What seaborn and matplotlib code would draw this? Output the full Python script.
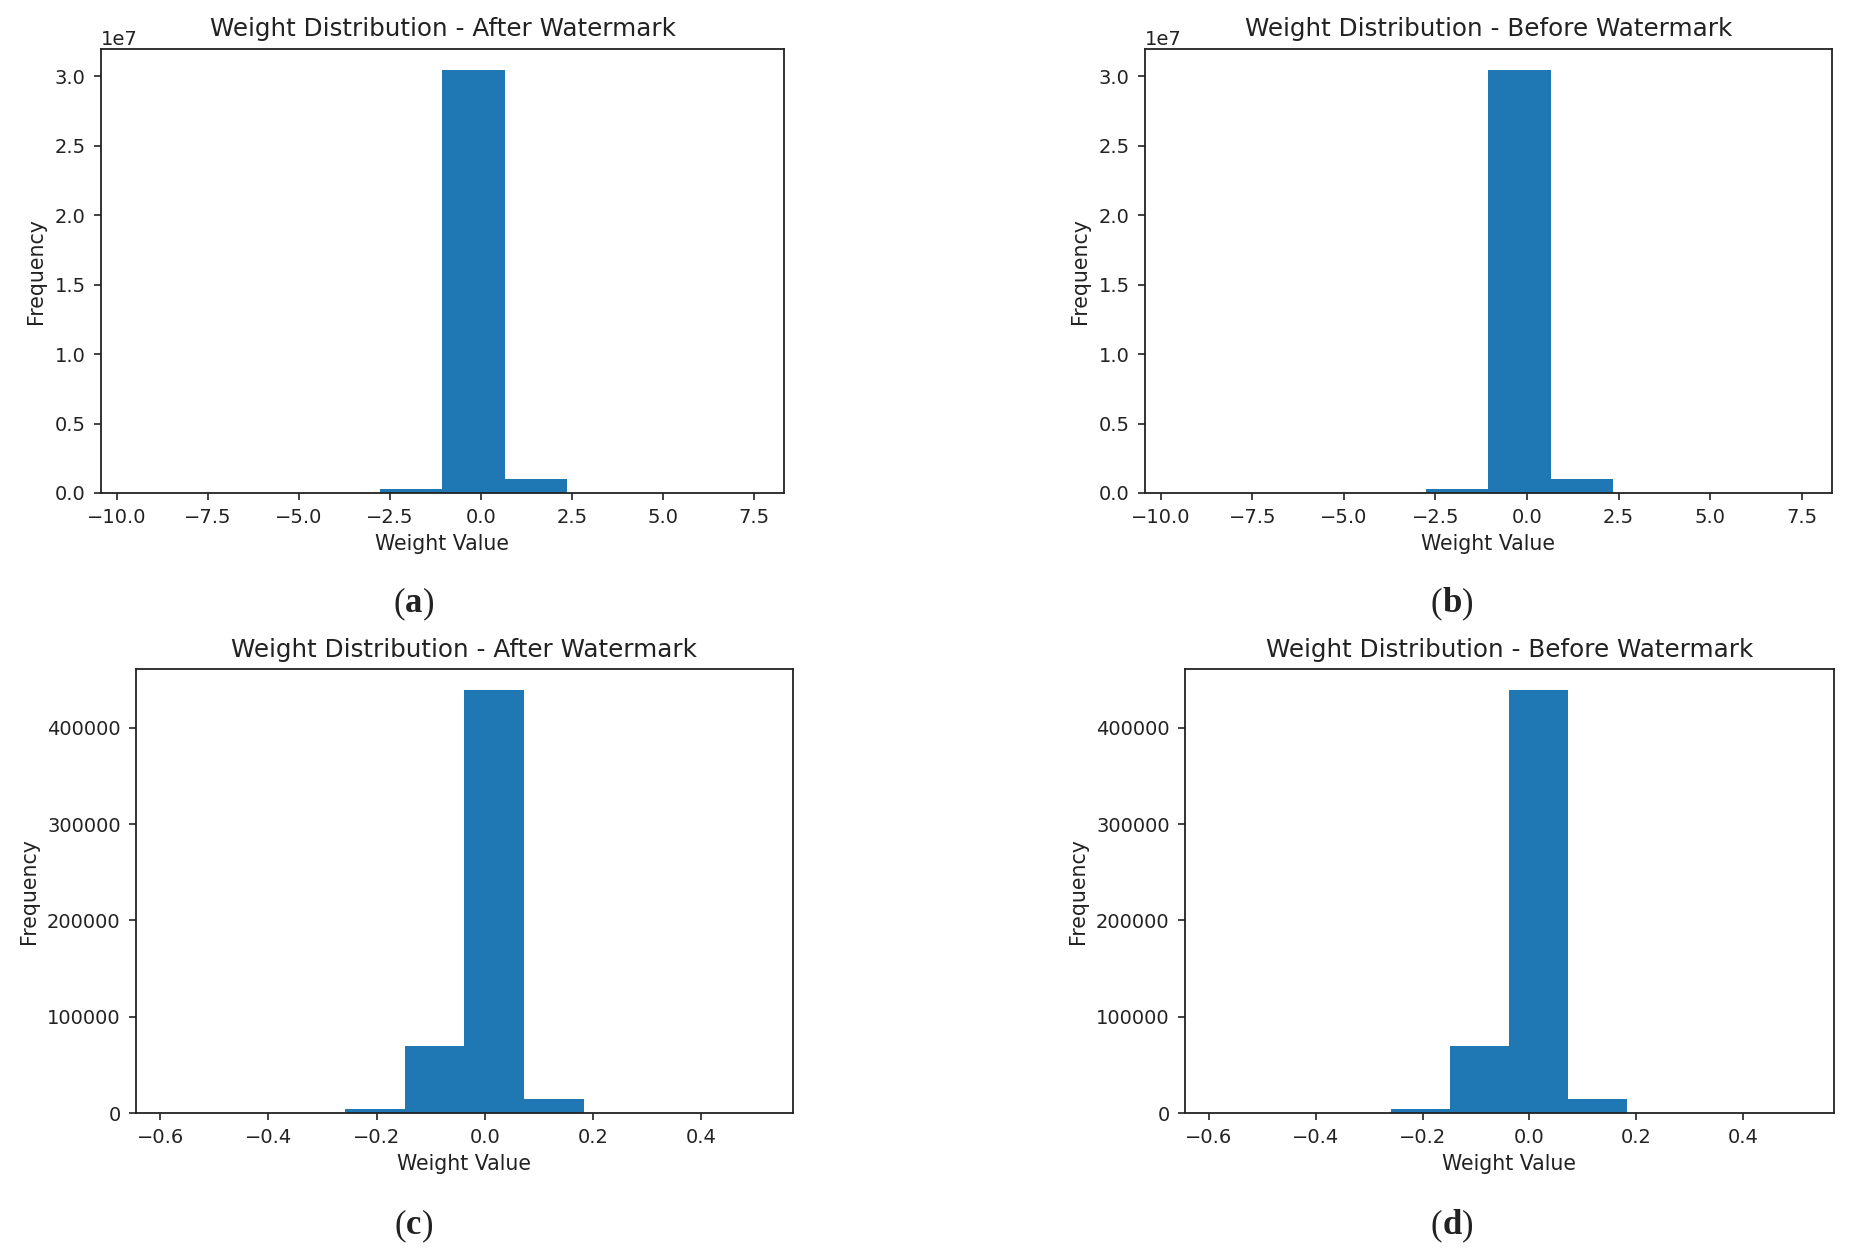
import numpy as np
import seaborn as sns
import matplotlib.pyplot as plt

# bin edges (10 bins, matplotlib default)
edges_full = [-9.58, -7.875, -6.17, -4.465, -2.76, -1.055, 0.65, 2.355, 4.06, 5.765, 7.47]
edges_layer = [-0.590, -0.4795, -0.369, -0.2585, -0.148, -0.0375, 0.073, 0.1835, 0.294, 0.4045, 0.515]

# bin counts
after_full = [1, 4, 60, 3000, 290000, 30450000, 1000000, 5000, 40, 2]
before_full = [1, 4, 60, 3000, 290000, 30450000, 1000000, 5000, 40, 2]
after_layer = [2, 15, 160, 4400, 69500, 439000, 14800, 300, 20, 3]
before_layer = [2, 15, 160, 4400, 69500, 439000, 14800, 300, 20, 3]

titles = ["Weight Distribution - After Watermark", "Weight Distribution - Before Watermark",
          "Weight Distribution - After Watermark", "Weight Distribution - Before Watermark"]
panel_tags = ["a", "b", "c", "d"]

sns.set_theme(style="ticks", rc={
    "axes.edgecolor": "#222222",
    "axes.linewidth": 1.3,
    "xtick.color": "#222222",
    "ytick.color": "#222222",
    "xtick.major.size": 5,
    "ytick.major.size": 5,
    "xtick.major.width": 1.2,
    "ytick.major.width": 1.2,
    "xtick.major.pad": 6,
    "ytick.major.pad": 6,
    "xtick.labelsize": 14,
    "ytick.labelsize": 14,
    "axes.labelsize": 14.8,
    "axes.titlesize": 17.7,
    "axes.titlepad": 9,
    "text.color": "#222222",
    "axes.labelcolor": "#222222",
})
plt.rcParams["font.family"] = ["DejaVu Sans"]

fig = plt.figure(figsize=(18.52, 12.54), dpi=100)
renderer = fig.canvas.get_renderer()

# axes boxes [left, bottom, width, height] as figure fractions
boxes = [
    [0.0545, 0.6069, 0.3688, 0.3541],
    [0.6182, 0.6069, 0.3709, 0.3541],
    [0.0734, 0.1124, 0.3547, 0.3541],
    [0.6398, 0.1124, 0.3504, 0.3541],
]
tag_pos = [(0.2235, 0.512), (0.7840, 0.512), (0.2235, 0.016), (0.7840, 0.016)]

datasets = [(edges_full, after_full), (edges_full, before_full),
            (edges_layer, after_layer), (edges_layer, before_layer)]

for i, (edges, counts) in enumerate(datasets):
    ax = fig.add_axes(boxes[i])
    centers = (np.array(edges[:-1]) + np.array(edges[1:])) / 2
    sns.histplot(x=centers, weights=counts, bins=edges, ax=ax,
                 color="#1f77b4", alpha=1, linewidth=0, edgecolor="#1f77b4")
    ax.set_title(titles[i])
    ax.set_xlabel("Weight Value", labelpad=5)
    ax.set_ylabel("Frequency", labelpad=6)
    if i >= 2:
        ax.set_xticks([-0.6, -0.4, -0.2, 0.0, 0.2, 0.4])
        ax.ticklabel_format(axis="y", style="plain")

    # panel tag: "(" + bold letter + ")"
    tx, ty = tag_pos[i]
    letter = fig.text(tx, ty, panel_tags[i], family="Liberation Serif", fontsize=25,
                      fontweight="bold", ha="center", va="baseline")
    bb = letter.get_window_extent(renderer).transformed(fig.transFigure.inverted())
    fig.text(bb.x0, ty, "(", family="Liberation Serif", fontsize=25, ha="right", va="baseline")
    fig.text(bb.x1, ty, ")", family="Liberation Serif", fontsize=25, ha="left", va="baseline")

fig.savefig("out.png", dpi=100)
